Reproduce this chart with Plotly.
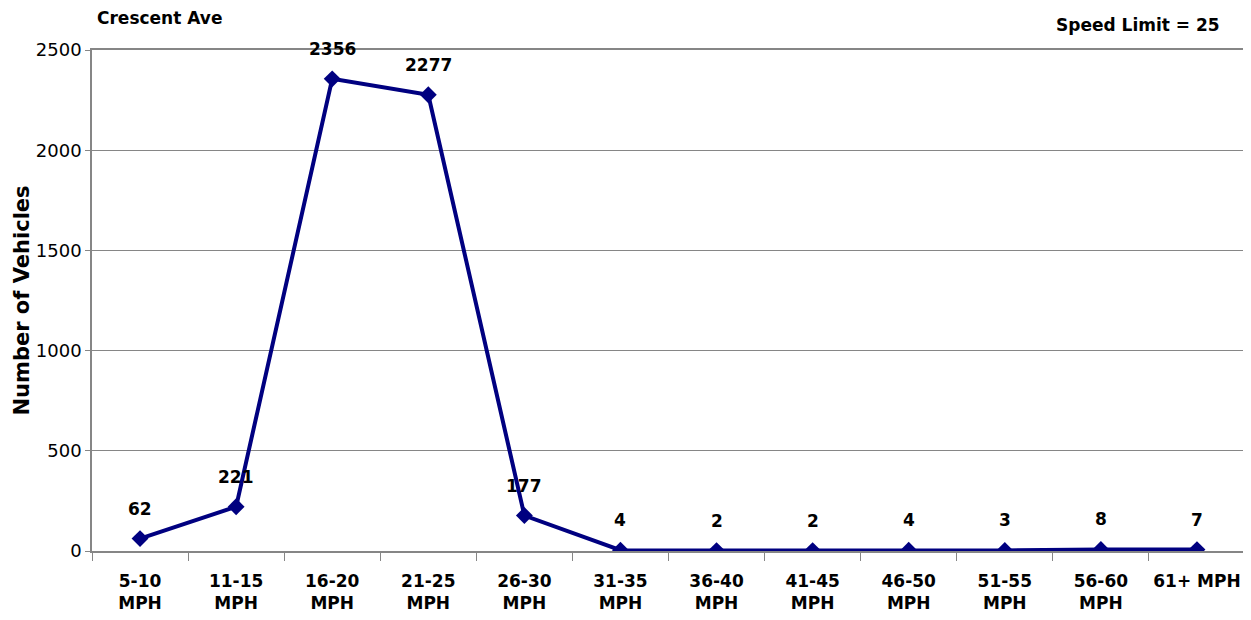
import plotly.graph_objects as go

categories = ["5-10<br>MPH", "11-15<br>MPH", "16-20<br>MPH", "21-25<br>MPH", "26-30<br>MPH",
              "31-35<br>MPH", "36-40<br>MPH", "41-45<br>MPH", "46-50<br>MPH", "51-55<br>MPH",
              "56-60<br>MPH", "61+ MPH"]
vehicles = [62, 221, 2356, 2277, 177, 4, 2, 2, 4, 3, 8, 7]
y_ticks = [0, 500, 1000, 1500, 2000, 2500]

LINE = "#000080"
GRID = "#868686"
FONT = "DejaVu Sans"

fig = go.Figure()
fig.add_trace(go.Scatter(
    x=categories, y=vehicles, mode="lines+markers",
    line=dict(color=LINE, width=4),
    marker=dict(symbol="diamond", size=13, color=LINE),
    hoverinfo="x+y", showlegend=False,
))

annotations = []
for c, v in zip(categories, vehicles):
    annotations.append(dict(
        x=c, y=v, xref="x", yref="y", text=f"<b>{v}</b>", showarrow=False,
        yshift=30, yanchor="middle", xanchor="center",
        font=dict(family=FONT, size=17, color="#000000"),
    ))

annotations.append(dict(
    xref="paper", yref="paper", x=0.0026, y=1 + 32 / 501, xanchor="left", yanchor="middle",
    text="<b>Crescent Ave</b>", showarrow=False,
    font=dict(family=FONT, size=17, color="#000000"),
))
annotations.append(dict(
    xref="paper", yref="paper", x=0.980, y=1.05, xanchor="right", yanchor="middle",
    text="<b>Speed Limit = 25</b>", showarrow=False,
    font=dict(family=FONT, size=17, color="#000000"),
))
annotations.append(dict(
    xref="paper", yref="paper", x=(21 - 92) / 1153, y=0.5, xanchor="center", yanchor="middle",
    text="<b>Number of Vehicles</b>", textangle=-90, showarrow=False,
    font=dict(family=FONT, size=21, color="#000000"),
))

fig.update_layout(
    width=1243, height=612,
    margin=dict(l=84, r=6, t=42, b=69, autoexpand=False),
    paper_bgcolor="white", plot_bgcolor="white",
    annotations=annotations,
    xaxis=dict(
        type="category", tickson="boundaries", ticks="outside", ticklen=8,
        tickcolor=GRID, showline=True, linecolor=GRID, linewidth=1.5, mirror=True,
        showgrid=False, range=[-0.5, len(categories) - 0.5],
        ticklabelstandoff=14, tickangle=0, automargin=False,
        tickfont=dict(family=FONT, size=17, color="#000000", weight="bold"),
    ),
    yaxis=dict(
        range=[0, 2500], tickvals=y_ticks, ticktext=[str(t) for t in y_ticks],
        ticks="outside", ticklen=5, tickcolor=GRID, automargin=False,
        showline=True, linecolor=GRID, linewidth=1.5, mirror=True,
        showgrid=True, gridcolor=GRID, gridwidth=1, zeroline=False,
        tickfont=dict(family=FONT, size=18, color="#000000"),
    ),
)

fig.write_html("out.html")
